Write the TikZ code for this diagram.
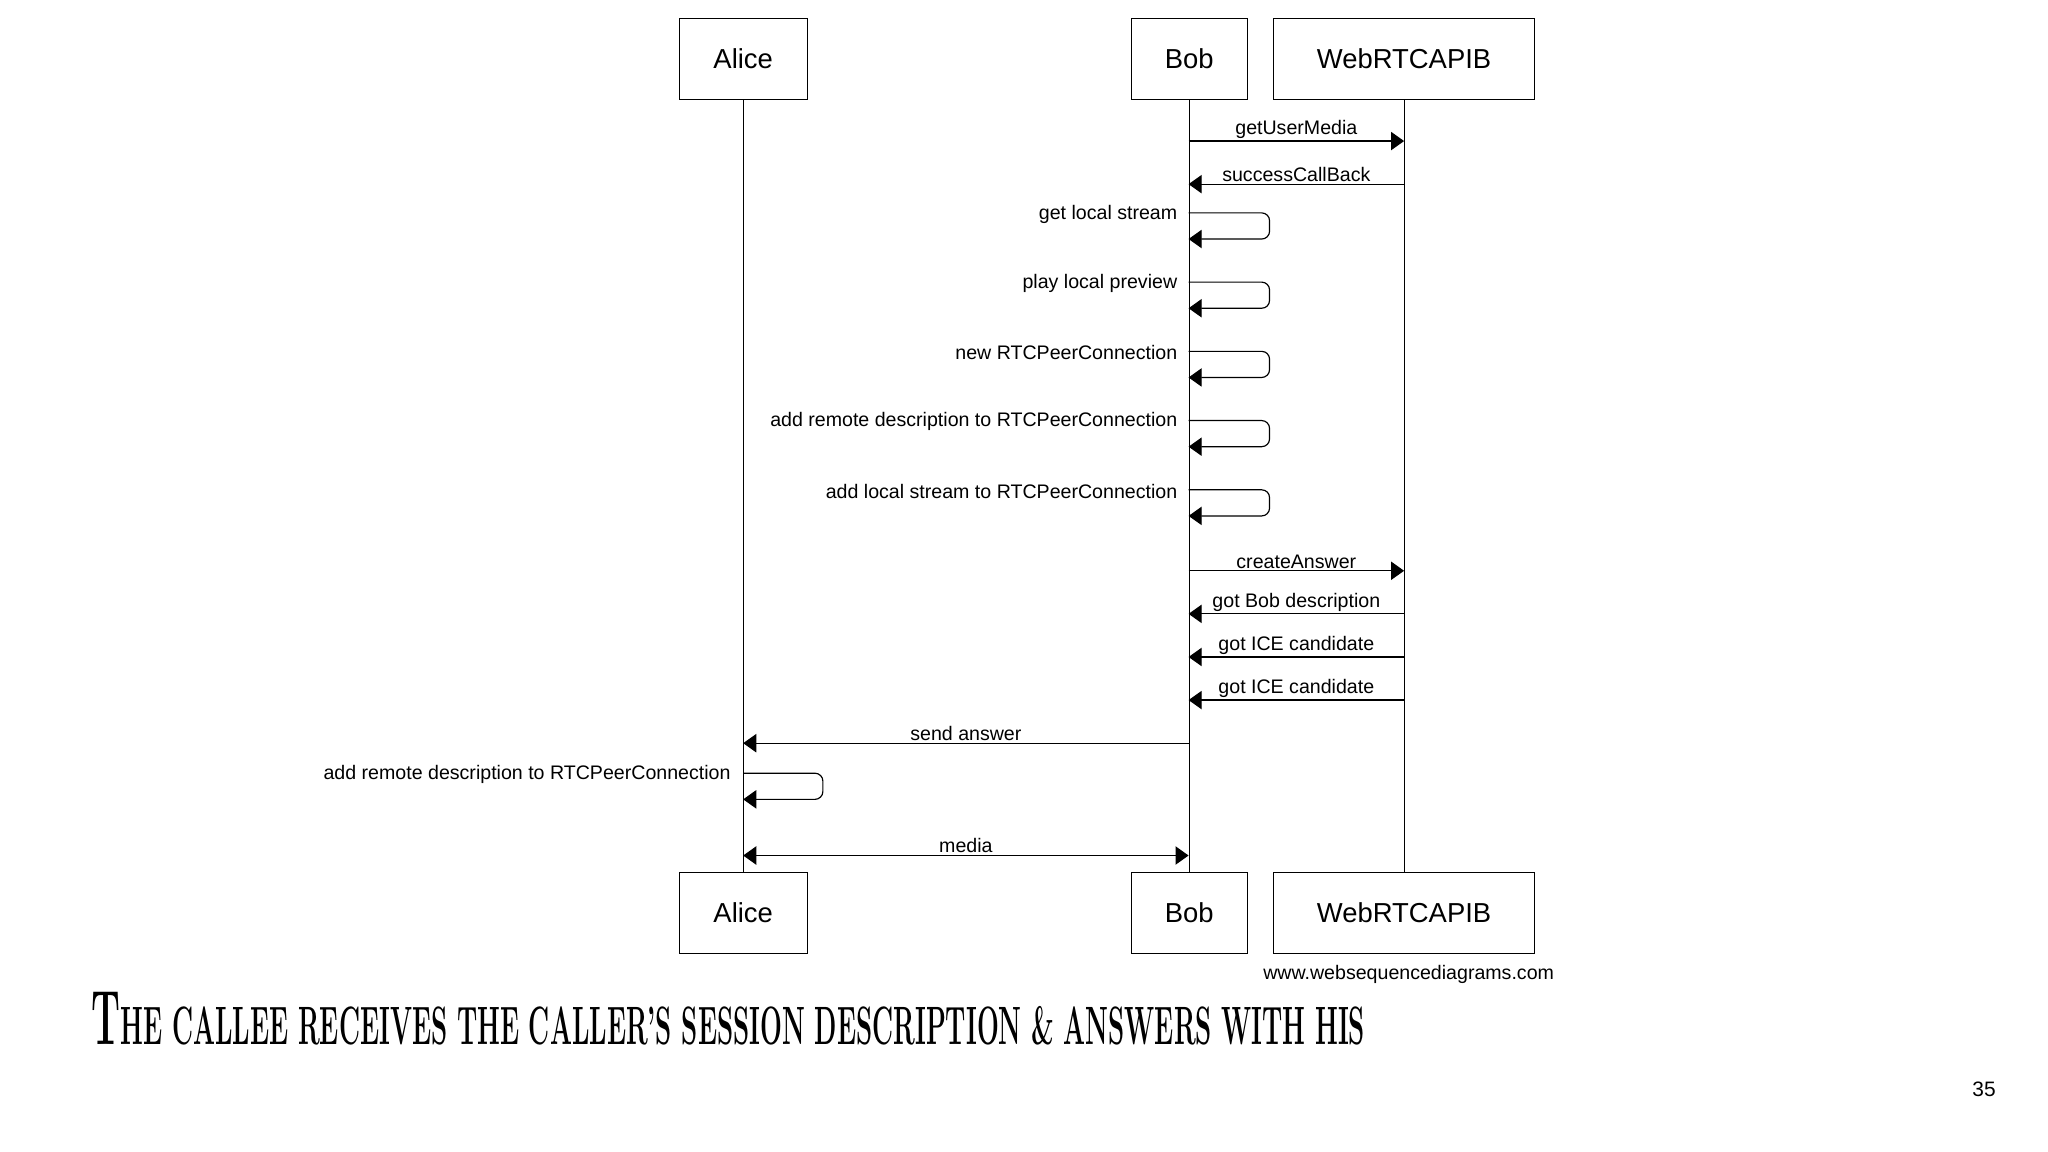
\documentclass[tikz,border=0pt]{standalone}
\usepackage{fontspec}
\setmainfont{Liberation Sans}
\usepackage{graphicx}
\usetikzlibrary{arrows.meta}
\begin{document}
\begin{tikzpicture}[x=1pt,y=-1pt,
  box/.style={draw,line width=0.9pt,minimum height=62pt,font=\fontsize{21}{24}\selectfont,inner sep=0pt},
  msg/.style={line width=0.9pt,-{Triangle[length=10pt,width=14pt]}},
  lbl/.style={font=\fontsize{15}{17}\selectfont,inner sep=1.5pt},
  life/.style={line width=0.9pt}]
\useasboundingbox (0,0) rectangle (1568,882);
\node[box,minimum width=98pt] (at) at (569,45) {Alice};
\node[box,minimum width=89pt] (bt) at (910.5,45) {Bob};
\node[box,minimum width=200pt] (wt) at (1075,45) {WebRTCAPIB};
\node[box,minimum width=98pt] (ab) at (569,699) {Alice};
\node[box,minimum width=89pt] (bb) at (910.5,699) {Bob};
\node[box,minimum width=200pt] (wb) at (1075,699) {WebRTCAPIB};
\draw[life] (at.south) -- (ab.north);
\draw[life] (bt.south) -- (bb.north);
\draw[life] (wt.south) -- (wb.north);
\foreach \n/\y in {1/108,2/141,8/437,9/470,10/503,11/536}{
  \coordinate (b\n) at (910,\y); \coordinate (w\n) at (1075,\y);}
\draw[msg] (b1) -- node[lbl,above]{getUserMedia} (w1);
\draw[msg] (w2) -- node[lbl,above]{successCallBack} (b2);
\draw[msg] (b8) -- node[lbl,above]{createAnswer} (w8);
\draw[msg] (w9) -- node[lbl,above]{got Bob description} (b9);
\draw[msg] (w10) -- node[lbl,above]{got ICE candidate} (b10);
\draw[msg] (w11) -- node[lbl,above]{got ICE candidate} (b11);
\foreach \n/\y/\t in {3/163/get local stream,4/216/play local preview,5/269/new RTCPeerConnection,6/322/add remote description to RTCPeerConnection,7/375/add local stream to RTCPeerConnection}{
  \coordinate (s\n) at (910,\y); \coordinate (e\n) at (910,\y+20);
  \node[lbl,anchor=east] (l\n) at (903,\y+1) {\t};
  \draw[msg,rounded corners=6pt] (s\n) -- (972,\y) -- (972,\y+20) -- (e\n);}
\coordinate (bs) at (910,569); \coordinate (as) at (569,569);
\draw[msg] (bs) -- node[lbl,above]{send answer} (as);
\coordinate (as1) at (569,592); \coordinate (ae1) at (569,612);
\node[lbl,anchor=east] (la) at (561,593) {add remote description to RTCPeerConnection};
\draw[msg,rounded corners=6pt] (as1) -- (630,592) -- (630,612) -- (ae1);
\coordinate (am) at (569,655); \coordinate (bm) at (910,655);
\draw[msg,{Triangle[length=10pt,width=14pt]}-{Triangle[length=10pt,width=14pt]}] (am) -- node[lbl,above]{media} (bm);
\node[font=\fontsize{15}{17}\selectfont,anchor=east,inner sep=0pt] (url) at (1190,746) {www.websequencediagrams.com};
\node[anchor=west,inner sep=0pt] (title) at (70,780) {\resizebox{975pt}{40pt}{\fontspec{Latin Modern Roman}\bfseries\fontsize{20}{22}\selectfont T\fontsize{14}{16}\selectfont HE CALLEE RECEIVES THE CALLER’S SESSION DESCRIPTION \& ANSWERS WITH HIS}};
\node[font=\fontsize{16}{18}\selectfont,inner sep=0pt] (pg) at (1519,834) {35};
\end{tikzpicture}
\end{document}
